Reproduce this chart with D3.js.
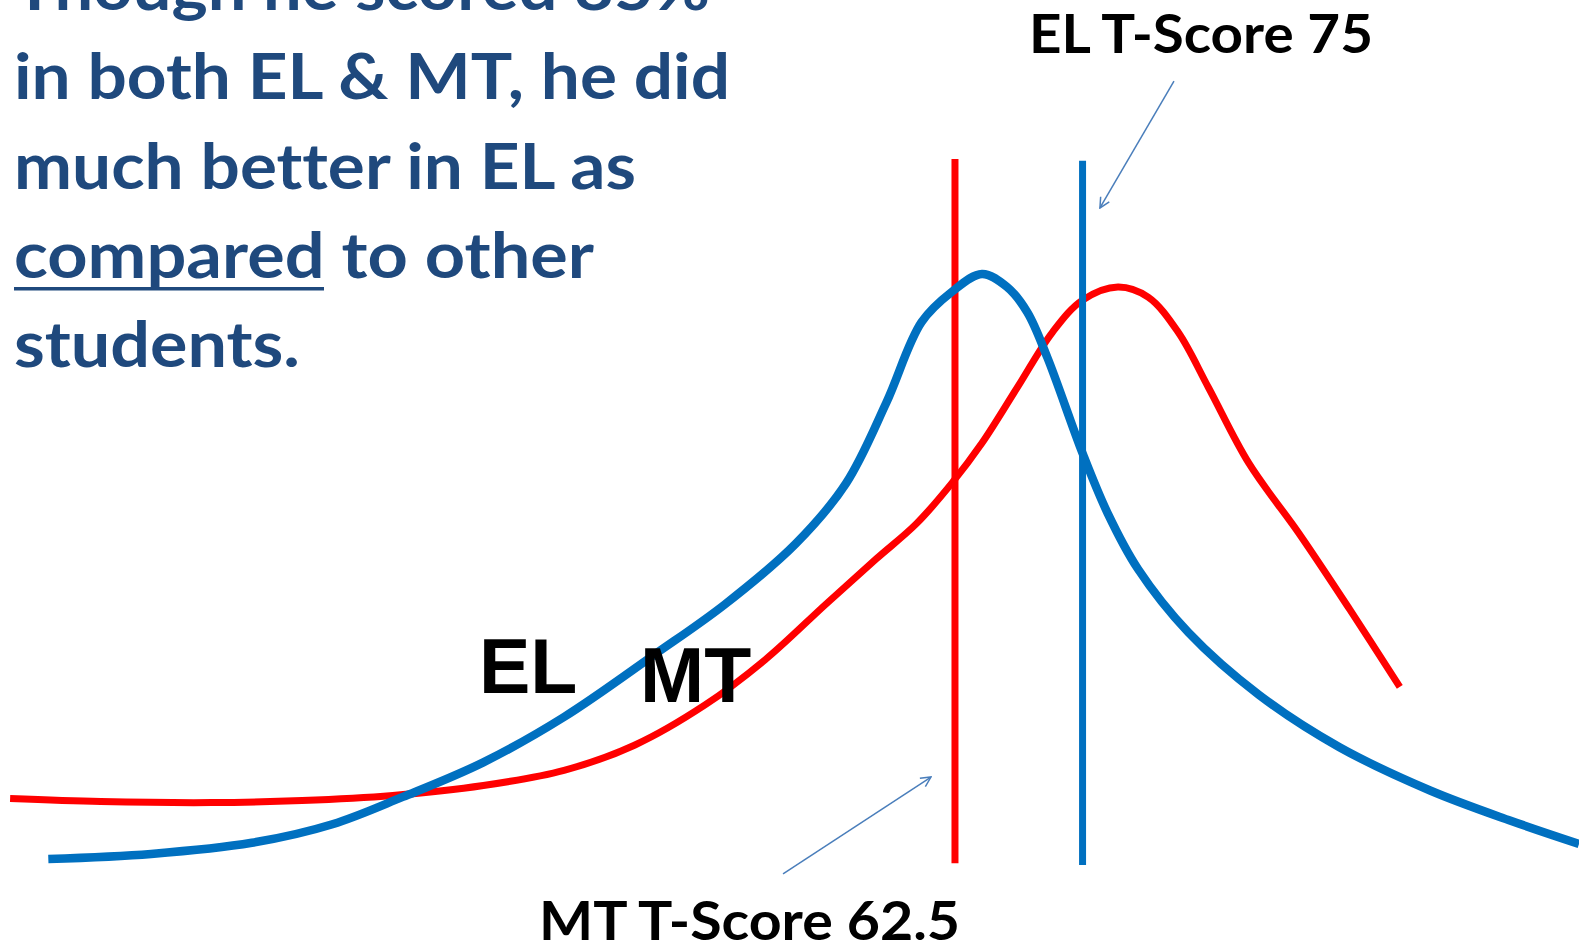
<!DOCTYPE html>
<html>
<head>
<meta charset="utf-8">
<script src="https://cdn.jsdelivr.net/npm/d3@7"></script>
<style>
  body { margin: 0; background: #fff; }
  svg { display: block; }
  text { font-variant-ligatures: none; font-feature-settings: "liga" 0, "clig" 0; }
</style>
</head>
<body>
<div id="chart"></div>
<script>
const width = 1579,
    height = 949;

// EL (blue) distribution curve, score position vs relative frequency
const elX = [3.06, 9.57, 15.95, 21.05, 25.51, 30.61, 35.72, 41.46, 45.92, 50.39, 53.58, 56.13, 58.36, 60.27, 62.19, 63.78, 65.06, 66.33, 68.56, 70.16, 72.07, 75.26, 79.73, 84.83, 90.57, 95.67, 100.0];
const elY = [3.39, 4.21, 6.00, 9.00, 13.40, 18.98, 26.29, 36.37, 44.48, 54.23, 63.97, 76.97, 89.97, 94.84, 97.76, 95.65, 91.58, 84.27, 68.84, 59.10, 50.16, 39.94, 29.87, 21.42, 14.44, 9.56, 5.82];

// MT (red) distribution curve
const mtX = [0.64, 6.38, 13.39, 19.13, 24.87, 30.61, 35.72, 40.18, 44.65, 48.47, 52.30, 55.49, 58.04, 60.27, 62.19, 64.42, 66.65, 68.56, 70.80, 72.71, 74.62, 76.54, 79.09, 82.28, 85.47, 88.65];
const mtY = [13.13, 12.65, 12.48, 12.81, 13.63, 15.24, 17.68, 21.74, 28.24, 35.55, 44.48, 51.79, 57.48, 63.97, 70.47, 79.40, 88.34, 93.53, 95.65, 94.02, 88.34, 79.40, 67.23, 55.85, 43.68, 31.16];

// student's score markers
const markerNames = ["MT", "EL"];
const markerX = [60.48, 68.56];
const markerTop = [116.3, 116.0];
const markerBottom = [2.7, 2.4];
const markerLabels = ["MT T-Score 62.5", "EL T-Score 75"];

// annotation arrows [x1, y1, x2, y2] in data units
const arrows = [
    [49.59, 0.97, 58.96, 16.61],
    [74.35, 128.87, 69.66, 108.39]
];

const titleLines = ["Though he scored 85%", "in both EL & MT, he did", "much better in EL as", "compared to other", "students."];

const colors = { EL: "#0070C0", MT: "#FF0000" };

const svg = d3.select("#chart")
    .append("svg")
    .attr("width", width)
    .attr("height", height)
    .attr("viewBox", [0, 0, width, height]);

svg.append("rect").attr("width", width).attr("height", height).attr("fill", "#fff");

let x = d3.scaleLinear()
    .domain([0, 100])
    .range([0, width]);

let y = d3.scaleLinear()
    .domain([0, 100])
    .range([880, 260]);

svg.append("defs").append("marker")
    .attr("id", "arrowhead")
    .attr("viewBox", "0 0 12 12")
    .attr("refX", 11)
    .attr("refY", 6)
    .attr("markerWidth", 12)
    .attr("markerHeight", 12)
    .attr("markerUnits", "userSpaceOnUse")
    .attr("orient", "auto")
  .append("path")
    .attr("d", "M1,1 L11,6 L1,11")
    .attr("fill", "none")
    .attr("stroke", "#4A7EBB")
    .attr("stroke-width", 1.5);

let line = d3.line()
    .x(d => x(d[0]))
    .y(d => y(d[1]))
    .curve(d3.curveCatmullRom.alpha(0.5));

// red vertical first, then curves, blue vertical on top
svg.append("line")
    .attr("x1", x(markerX[0])).attr("x2", x(markerX[0]))
    .attr("y1", y(markerTop[0])).attr("y2", y(markerBottom[0]))
    .attr("stroke", colors.MT)
    .attr("stroke-width", 7);

svg.append("path")
    .datum(d3.zip(mtX, mtY))
    .attr("d", line)
    .attr("fill", "none")
    .attr("stroke", colors.MT)
    .attr("stroke-width", 7);

svg.append("path")
    .datum(d3.zip(elX, elY))
    .attr("d", line)
    .attr("fill", "none")
    .attr("stroke", colors.EL)
    .attr("stroke-width", 8.5);

svg.append("line")
    .attr("x1", x(markerX[1])).attr("x2", x(markerX[1]))
    .attr("y1", y(markerTop[1])).attr("y2", y(markerBottom[1]))
    .attr("stroke", colors.EL)
    .attr("stroke-width", 7);

svg.selectAll(".arrow")
    .data(arrows)
    .join("line")
    .attr("class", "arrow")
    .attr("x1", d => x(d[0])).attr("y1", d => y(d[1]))
    .attr("x2", d => x(d[2])).attr("y2", d => y(d[3]))
    .attr("stroke", "#4A7EBB")
    .attr("stroke-width", 1.5)
    .attr("marker-end", "url(#arrowhead)");

// curve name labels
svg.append("text")
    .attr("x", 479).attr("y", 693)
    .attr("font-family", "'Liberation Sans', Arial, sans-serif")
    .attr("font-weight", 700)
    .attr("font-size", 77)
    .text(markerNames[1]);

svg.append("text")
    .attr("x", 640).attr("y", 702)
    .attr("font-family", "'Liberation Sans', Arial, sans-serif")
    .attr("font-weight", 700)
    .attr("font-size", 77)
    .text(markerNames[0]);

// score labels
svg.append("text")
    .attr("x", 539).attr("y", 940)
    .attr("font-family", "Lato, 'Open Sans', sans-serif")
    .attr("font-weight", 700)
    .attr("font-size", 53)
    .attr("textLength", 421)
    .attr("lengthAdjust", "spacingAndGlyphs")
    .text(markerLabels[0]);

svg.append("text")
    .attr("x", 1029).attr("y", 53)
    .attr("font-family", "Lato, 'Open Sans', sans-serif")
    .attr("font-weight", 700)
    .attr("font-size", 53)
    .attr("textLength", 344)
    .attr("lengthAdjust", "spacingAndGlyphs")
    .text(markerLabels[1]);

// explanatory text block
const lineWidths = [696, 716, 622, 580, 286];
const title = svg.append("g")
    .attr("font-family", "Lato, 'Open Sans', sans-serif")
    .attr("font-weight", 700)
    .attr("font-size", 64)
    .attr("fill", "#1F497D");

titleLines.forEach((t, i) => {
    let txt = title.append("text")
        .attr("x", 14)
        .attr("y", 10 + i * 89.3)
        .attr("textLength", lineWidths[i])
        .attr("lengthAdjust", "spacingAndGlyphs");
    if (t.startsWith("compared")) {
        txt.append("tspan").text("compared");
        txt.append("tspan").text(t.slice(8));
    } else {
        txt.text(t);
    }
});

// underline under "compared"
title.append("rect")
    .attr("x", 14).attr("y", 287)
    .attr("width", 310).attr("height", 3.5);
</script>
</body>
</html>
